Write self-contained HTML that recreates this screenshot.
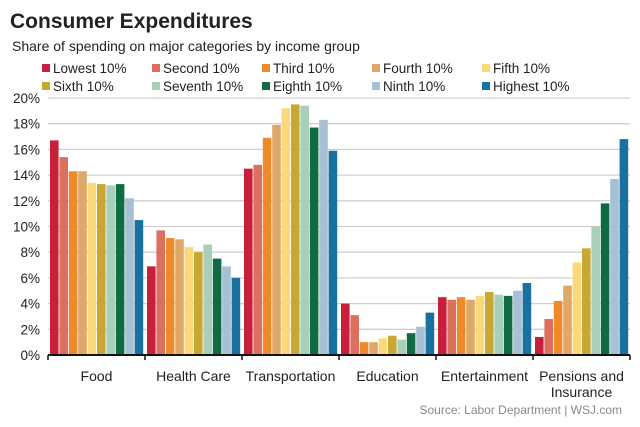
<!DOCTYPE html>
<html><head><meta charset="utf-8"><style>
body{margin:0;background:#fff;font-family:"Liberation Sans",sans-serif}
svg{display:block}
</style></head><body>
<svg id="c" width="640" height="427">
<text x="10" y="28" font-size="21" font-weight="bold" fill="#222">Consumer Expenditures</text>
<text x="12" y="51" font-size="14" fill="#222">Share of spending on major categories by income group</text>
<text x="622" y="414" font-size="12" fill="#888" text-anchor="end">Source: Labor Department  |  WSJ.com</text>
<g id="grid"></g><g id="bars"></g><g id="axis"></g><g id="legend"></g>
</svg>
<script>
const categories=["Food","Health Care","Transportation","Education","Entertainment","Pensions and|Insurance"];
const seriesNames=["Lowest 10%","Second 10%","Third 10%","Fourth 10%","Fifth 10%","Sixth 10%","Seventh 10%","Eighth 10%","Ninth 10%","Highest 10%"];
const colors=["#c8203a","#dc7060","#ef8a2a","#e0a868","#fbd97a","#c8a834","#a8d0b8","#0f6b43","#a8c0d4","#1a70a0"];
const food=[16.7,15.4,14.3,14.3,13.4,13.3,13.2,13.3,12.2,10.5];
const health=[6.9,9.7,9.1,9.0,8.4,8.0,8.6,7.5,6.9,6.0];
const transport=[14.5,14.8,16.9,17.9,19.2,19.5,19.4,17.7,18.3,15.9];
const education=[4.0,3.1,1.0,1.0,1.3,1.5,1.2,1.7,2.2,3.3];
const entertainment=[4.5,4.3,4.5,4.3,4.6,4.9,4.7,4.6,5.0,5.6];
const pensions=[1.4,2.8,4.2,5.4,7.2,8.3,10.0,11.8,13.7,16.8];
const values=[food,health,transport,education,entertainment,pensions];
const yTicks=[0,2,4,6,8,10,12,14,16,18,20];
const NS="http://www.w3.org/2000/svg";
const x0=48,x1=630,y0=355,yTop=98,yMax=20;
const y=v=>y0-(v/yMax)*(y0-yTop);
const gw=(x1-x0)/categories.length;
function mk(t,a,p){const e=document.createElementNS(NS,t);for(const k in a)e.setAttribute(k,a[k]);p.appendChild(e);return e;}
const grid=document.getElementById('grid'),bars=document.getElementById('bars'),axis=document.getElementById('axis'),leg=document.getElementById('legend');
yTicks.forEach(t=>{
 if(t>0){const l=mk('line',{x1:x0,x2:x1,y1:y(t),y2:y(t),stroke:'#d0d0d0','stroke-width':1.3},grid);
 
 }
 const tx=mk('text',{x:40,y:y(t)+5,'font-size':13.5,'text-anchor':'end',fill:'#222'},axis);tx.textContent=t+'%';
 
 
});
const bw=(gw-3)/10;
values.forEach((arr,g)=>{
 arr.forEach((v,i)=>{
  const r=mk('rect',{x:x0+g*gw+2+i*bw,y:y(v),width:bw-0.8,height:y0-y(v),fill:colors[i]},bars);
  
  
 });
 const parts=categories[g].split('|');
 parts.forEach((p,j)=>{const tx=mk('text',{x:x0+g*gw+gw/2,y:381+j*16,'font-size':14,'text-anchor':'middle',fill:'#222'},axis);tx.textContent=p;
 
 });
});
const al=mk('line',{x1:x0,x2:x1,y1:y0,y2:y0,stroke:'#111','stroke-width':2},axis);


for(let g=0;g<=categories.length;g++){const tk=mk('line',{x1:x0+g*gw,x2:x0+g*gw,y1:y0,y2:y0+5,stroke:'#111','stroke-width':1.5},axis);
 
 }
seriesNames.forEach((n,i)=>{
 const lx=42+(i%5)*110,ly=(i<5)?73:91;
 const g=mk('g',{},leg);
 
 
 mk('rect',{x:lx,y:ly-9,width:8,height:8,fill:colors[i]},g);
 const t=mk('text',{x:lx+11,y:ly,'font-size':13.5,fill:'#222'},g);t.textContent=n;
});
</script>
</body></html>
